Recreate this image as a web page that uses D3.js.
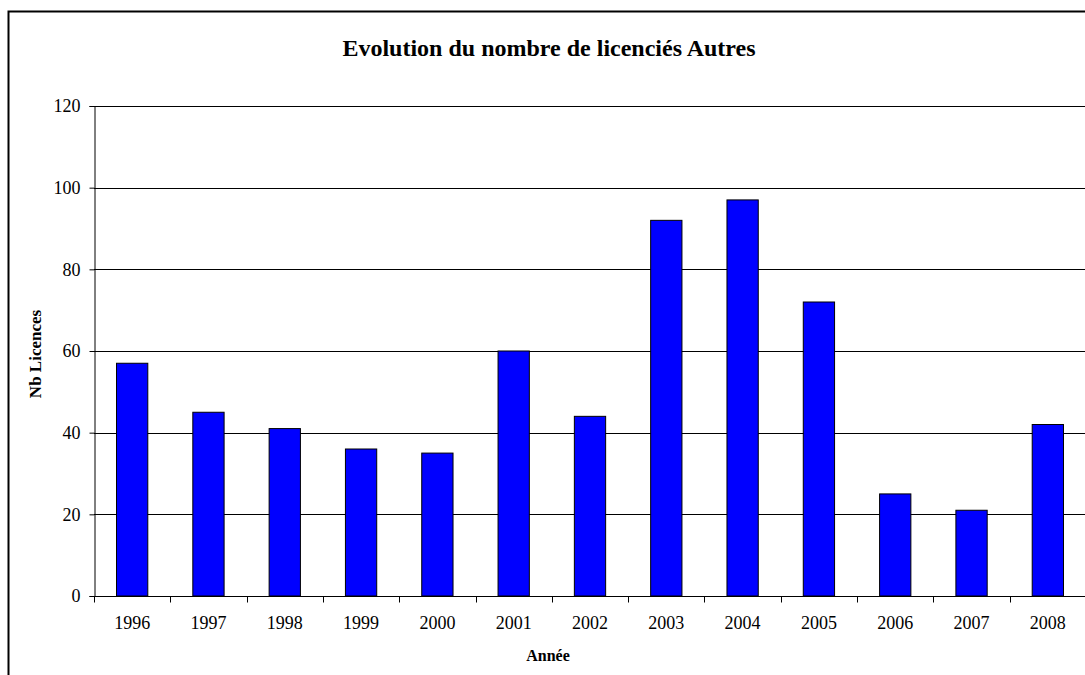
<!DOCTYPE html>
<html>
<head>
<meta charset="utf-8">
<script src="https://cdn.jsdelivr.net/npm/d3@7"></script>
<style>
  body { margin: 0; background: #fff; }
  svg text { font-family: "Liberation Serif", "Times New Roman", serif; fill: #000; }
</style>
</head>
<body>
<div id="chart"></div>
<script>
// Data
const years = ["1996", "1997", "1998", "1999", "2000", "2001", "2002", "2003", "2004", "2005", "2006", "2007", "2008"];
const licences = [57, 45, 41, 36, 35, 60, 44, 92, 97, 72, 25, 21, 42];
const yTicks = [0, 20, 40, 60, 80, 100, 120];

const W = 1085, H = 675;
const margin = { top: 106, right: -1, bottom: 79, left: 94 };
const width = W - margin.left - margin.right;
const height = H - margin.top - margin.bottom;

const svg = d3.select("#chart")
  .append("svg")
  .attr("width", W)
  .attr("height", H);

// outer frame
svg.append("rect")
  .attr("x", 8.5).attr("y", 11.5)
  .attr("width", W + 20).attr("height", H + 20)
  .attr("fill", "none")
  .attr("stroke", "#000")
  .attr("stroke-width", 2);

const g = svg.append("g")
  .attr("transform", "translate(" + margin.left + "," + margin.top + ")");

const x = d3.scaleBand()
  .domain(years)
  .range([0, width])
  .paddingInner(0.59)
  .paddingOuter(0.295);

const xAxisScale = d3.scaleBand().domain(years).range([0, width]);

const y = d3.scaleLinear()
  .domain([0, 120])
  .range([height, 0]);

// gridlines
g.append("g")
  .selectAll("line")
  .data(yTicks.filter(d => d > 0))
  .join("line")
  .attr("x1", 0).attr("x2", width)
  .attr("y1", d => Math.round(y(d)) + 0.5)
  .attr("y2", d => Math.round(y(d)) + 0.5)
  .attr("stroke", "#000")
  .attr("stroke-width", 1);

// bars
g.append("g")
  .selectAll("rect")
  .data(years.map((yr, i) => ({ yr: yr, v: licences[i] })))
  .join("rect")
  .attr("x", d => x(d.yr))
  .attr("y", d => y(d.v))
  .attr("width", x.bandwidth())
  .attr("height", d => height - y(d.v))
  .attr("fill", "#0000ff")
  .attr("stroke", "#000")
  .attr("stroke-width", 1);

// y axis
const yAxis = g.append("g")
  .attr("transform", "translate(0.5,0)")
  .call(d3.axisLeft(y).tickValues(yTicks).tickSize(5).tickPadding(9));
yAxis.select(".domain").attr("stroke", "#000");
yAxis.selectAll("text").style("font-size", "18px");

// x axis with ticks at band boundaries
const xAxis = g.append("g")
  .attr("transform", "translate(0," + (height + 0.5) + ")");
xAxis.append("line")
  .attr("x1", 0).attr("x2", width)
  .attr("stroke", "#000");
xAxis.selectAll("line.tick")
  .data(years)
  .join("line")
  .attr("class", "tick")
  .attr("x1", d => Math.round(xAxisScale(d)) + 0.5)
  .attr("x2", d => Math.round(xAxisScale(d)) + 0.5)
  .attr("y1", 0).attr("y2", 6)
  .attr("stroke", "#000");
xAxis.selectAll("text")
  .data(years)
  .join("text")
  .attr("x", d => xAxisScale(d) + xAxisScale.bandwidth() / 2)
  .attr("y", 32)
  .attr("text-anchor", "middle")
  .style("font-size", "18px")
  .text(d => d);

// title
svg.append("text")
  .attr("x", 549).attr("y", 56)
  .attr("text-anchor", "middle")
  .style("font-size", "24px")
  .style("font-weight", "bold")
  .text("Evolution du nombre de licenciés Autres");

// axis titles
svg.append("text")
  .attr("x", 548).attr("y", 661)
  .attr("text-anchor", "middle")
  .style("font-size", "16px")
  .style("font-weight", "bold")
  .text("Année");

svg.append("text")
  .attr("transform", "translate(41,354) rotate(-90)")
  .attr("text-anchor", "middle")
  .style("font-size", "17px")
  .style("font-weight", "bold")
  .text("Nb Licences");
</script>
</body>
</html>
